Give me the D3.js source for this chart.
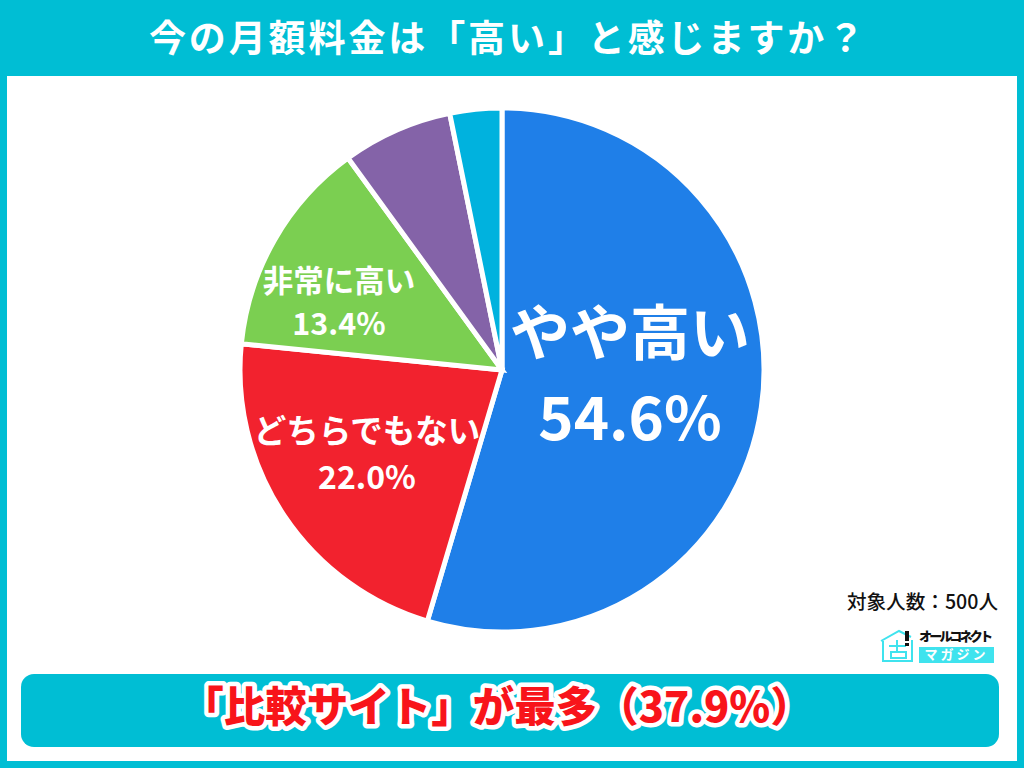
<!DOCTYPE html>
<html>
<head>
<meta charset="utf-8">
<script src="https://cdn.jsdelivr.net/npm/d3@7"></script>
<style>
    html, body { margin: 0; padding: 0; background: #fff; }
    svg { display: block; }
    text { font-family: "Noto Sans CJK JP", sans-serif; }
</style>
</head>
<body>
<div class="chart"></div>
<script>
const categories = ['やや高い', 'どちらでもない', '非常に高い', 'あまり高くない', '高くない'];
const values = [54.6, 22.0, 13.4, 6.8, 3.2];
const colors = ['#1f7fe8', '#f2222e', '#7bcf51', '#8463a8', '#00b2de'];
const titleText = '今の月額料金は「高い」と感じますか？';
const footerText = '「比較サイト」が最多（37.9%）';
const sampleText = '対象人数：500人';

const width = 1024, height = 768;
const teal = '#00bed4';

const svg = d3.select('.chart').append('svg')
    .attr('width', width)
    .attr('height', height);

// frame + header
svg.append('rect').attr('width', width).attr('height', height).attr('fill', teal);
svg.append('rect').attr('x', 7).attr('y', 76).attr('width', 1010).attr('height', 685).attr('fill', '#fff');

svg.append('text')
    .attr('x', 508).attr('y', 42)
    .attr('text-anchor', 'middle').attr('dominant-baseline', 'middle')
    .attr('font-size', 37).attr('font-weight', 700)
    .attr('letter-spacing', 2.9)
    .attr('fill', '#fff')
    .text(titleText);

// pie
const cx = 502, cy = 370, radius = 262;
const pie = d3.pie().sort(null).value(d => d);
const arc = d3.arc().innerRadius(0).outerRadius(radius);
const arcs = pie(values);

const g = svg.append('g').attr('transform', `translate(${cx},${cy})`);
g.selectAll('path')
    .data(arcs)
    .enter()
    .append('path')
    .attr('d', arc)
    .attr('fill', (d, i) => colors[i])
    .attr('stroke', '#fff')
    .attr('stroke-width', 5)
    .attr('stroke-linejoin', 'miter');

// slice labels, offset from the centre
const labelSpots = [
    {i: 0, x: 128, y1: -31, y2: 54, size1: 60, size2: 60},
    {i: 1, x: -135, y1: 64, y2: 110, size1: 32.5, size2: 32},
    {i: 2, x: -163, y1: -86, y2: -43, size1: 30.5, size2: 30.5}
];
labelSpots.forEach(s => {
    g.append('text')
        .attr('x', s.x).attr('y', s.y1)
        .attr('text-anchor', 'middle').attr('dominant-baseline', 'middle')
        .attr('font-size', s.size1).attr('font-weight', 700).attr('fill', '#fff')
        .text(categories[s.i]);
    g.append('text')
        .attr('x', s.x).attr('y', s.y2)
        .attr('text-anchor', 'middle').attr('dominant-baseline', 'middle')
        .attr('font-size', s.size2).attr('font-weight', 700).attr('fill', '#fff')
        .text(d3.format('.1f')(values[s.i]) + '%');
});

// sample size
svg.append('text')
    .attr('x', 998).attr('y', 604)
    .attr('text-anchor', 'end').attr('dominant-baseline', 'middle')
    .attr('font-size', 19.6).attr('font-weight', 500).attr('fill', '#111')
    .text(sampleText);

// logo
const logo = svg.append('g').attr('fill', 'none').attr('stroke', '#3fe3ee').attr('stroke-width', 2);
logo.append('path').attr('d', 'M881 641 L899 631 L911 637');
logo.append('path').attr('d', 'M883 641 V661 H912 V640');
logo.append('path').attr('d', 'M889 646 H906 M897 640 V652 M891 652 H906 V658 H891 Z');
svg.append('rect').attr('x', 905).attr('y', 631).attr('width', 4).attr('height', 10).attr('fill', '#111');
svg.append('rect').attr('x', 905).attr('y', 643).attr('width', 4).attr('height', 3).attr('fill', '#111');
svg.append('text')
    .attr('x', 919).attr('y', 637)
    .attr('dominant-baseline', 'middle')
    .attr('font-size', 13).attr('font-weight', 900).attr('fill', '#111')
    .attr('textLength', 74)
    .text('オールコネクト');
svg.append('rect').attr('x', 919).attr('y', 647).attr('width', 75).attr('height', 16).attr('fill', '#3fe3ee');
svg.append('text')
    .attr('x', 956.5).attr('y', 655.5)
    .attr('text-anchor', 'middle').attr('dominant-baseline', 'middle')
    .attr('font-size', 13).attr('font-weight', 700).attr('fill', '#fff')
    .attr('letter-spacing', 3)
    .text('マガジン');

// bottom banner
svg.append('rect')
    .attr('x', 21).attr('y', 674).attr('width', 978).attr('height', 73)
    .attr('rx', 13).attr('fill', teal);
svg.append('text')
    .attr('x', 497).attr('y', 711)
    .attr('text-anchor', 'middle').attr('dominant-baseline', 'middle')
    .attr('font-size', 41.5).attr('font-weight', 900)
    .attr('fill', '#f8141a')
    .attr('stroke', '#fff').attr('stroke-width', 9)
    .attr('stroke-linejoin', 'round')
    .attr('paint-order', 'stroke')
    .text(footerText);
</script>
</body>
</html>
